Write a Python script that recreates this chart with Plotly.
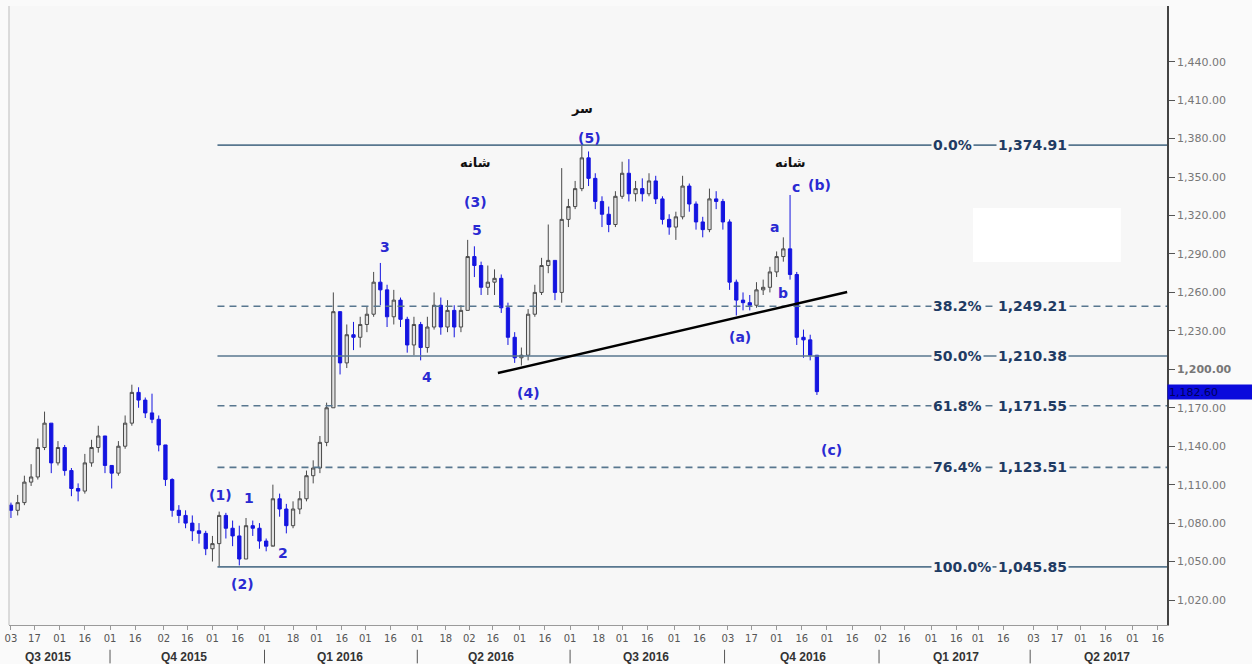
import pandas as pd
import plotly.graph_objects as go

# ---------------- data ----------------
first_open = 1094
dates = pd.date_range("2015-08-03", periods=121, freq="4D")

close = [1090, 1096, 1112, 1116, 1139, 1158, 1127, 1139, 1121, 1107,
         1105, 1127, 1139, 1148, 1125, 1119, 1140, 1158, 1182, 1176,
         1166, 1161, 1141, 1114, 1090, 1086, 1080, 1074, 1072, 1060,
         1064, 1086, 1076, 1070, 1052, 1078, 1076, 1066, 1062, 1099,
         1091, 1078, 1091, 1099, 1117, 1123, 1143, 1170, 1245, 1205,
         1227, 1225, 1235, 1243, 1268, 1262, 1241, 1254, 1239, 1219,
         1235, 1217, 1233, 1250, 1233, 1246, 1233, 1246, 1288, 1281,
         1264, 1268, 1271, 1248, 1225, 1209, 1211, 1243, 1260, 1281,
         1285, 1260, 1317, 1327, 1341, 1365, 1349, 1331, 1321, 1313,
         1335, 1353, 1337, 1341, 1337, 1347, 1333, 1317, 1311, 1319,
         1343, 1329, 1315, 1309, 1333, 1331, 1315, 1268, 1254, 1252,
         1250, 1262, 1264, 1276, 1288, 1294, 1274, 1225, 1223, 1211,
         1182.6]
high = [1096, 1102, 1117, 1126, 1146, 1167, 1158, 1144, 1141, 1123,
        1111, 1134, 1145, 1156, 1148, 1123, 1144, 1164, 1188, 1186,
        1178, 1181, 1164, 1140, 1115, 1094, 1090, 1086, 1080, 1074,
        1070, 1089, 1088, 1082, 1078, 1084, 1082, 1080, 1068, 1110,
        1103, 1095, 1097, 1105, 1121, 1129, 1148, 1174, 1260, 1243,
        1235, 1237, 1241, 1249, 1276, 1283, 1266, 1262, 1256, 1241,
        1241, 1237, 1241, 1260, 1256, 1254, 1250, 1250, 1301, 1296,
        1284, 1281, 1278, 1274, 1252, 1229, 1217, 1247, 1266, 1287,
        1313, 1285, 1357, 1333, 1347, 1375, 1370, 1353, 1335, 1327,
        1339, 1362, 1364, 1347, 1349, 1353, 1351, 1335, 1321, 1323,
        1351, 1345, 1331, 1319, 1341, 1339, 1333, 1317, 1270, 1260,
        1258, 1268, 1270, 1280, 1292, 1303, 1336, 1276, 1231, 1227,
        1211]
low = [1084, 1086, 1094, 1109, 1114, 1137, 1119, 1125, 1117, 1101,
       1097, 1103, 1124, 1135, 1119, 1107, 1117, 1138, 1156, 1170,
       1162, 1158, 1136, 1109, 1085, 1080, 1076, 1066, 1064, 1055,
       1050, 1046, 1068, 1062, 1047, 1052, 1070, 1060, 1058, 1063,
       1085, 1072, 1076, 1087, 1097, 1111, 1119, 1140, 1170, 1196,
       1201, 1215, 1217, 1229, 1241, 1250, 1233, 1235, 1233, 1213,
       1211, 1207, 1213, 1231, 1227, 1229, 1225, 1229, 1246, 1272,
       1258, 1258, 1258, 1244, 1219, 1205, 1203, 1207, 1241, 1258,
       1275, 1254, 1252, 1311, 1325, 1339, 1343, 1325, 1311, 1307,
       1311, 1333, 1331, 1331, 1331, 1335, 1329, 1313, 1305, 1301,
       1317, 1323, 1309, 1303, 1307, 1325, 1309, 1262, 1242, 1246,
       1246, 1248, 1258, 1260, 1272, 1284, 1270, 1219, 1209, 1207,
       1180]
opens = [first_open] + close[:-1]
last_price = 1182.60

fib_pct = ["0.0%", "38.2%", "50.0%", "61.8%", "76.4%", "100.0%"]
fib_val = [1374.91, 1249.21, 1210.38, 1171.55, 1123.51, 1045.85]
fib_dashed = [False, True, False, True, True, False]
fib_start = "2015-12-04"

trend_x = ["2016-05-19", "2016-12-13"]
trend_y = [1197.1, 1260.3]

wave_text = ["(1)", "1", "2", "(2)", "3", "4", "5", "(3)", "(5)", "(4)",
             "(a)", "a", "b", "c", "(b)", "(c)"]
wave_x = ["2015-12-06", "2015-12-23", "2016-01-12", "2015-12-19", "2016-03-13",
          "2016-04-07", "2016-05-06 12:00", "2016-05-05 12:00", "2016-07-12 20:00",
          "2016-06-06 12:00", "2016-10-10", "2016-10-31", "2016-11-04 20:00",
          "2016-11-12 12:00", "2016-11-26 20:00", "2016-12-03 10:00"]
wave_y = [1101.9, 1099.6, 1056.7, 1032.5, 1295.4, 1194.0, 1308.7, 1330.6, 1380.5,
          1181.5, 1225.2, 1311.0, 1259.5, 1342.3, 1343.8, 1137.0]

fa_text = ["سر", "شانه", "شانه"]
fa_x = ["2016-07-08", "2016-05-05 12:00", "2016-11-09"]
fa_y = [1403.9, 1361.0, 1361.0]

tick_dates = ["2015-08-03", "2015-08-17", "2015-09-01", "2015-09-16", "2015-10-01",
              "2015-10-16", "2015-11-02", "2015-11-16", "2015-12-01", "2015-12-16",
              "2016-01-01", "2016-01-18", "2016-02-01", "2016-02-16", "2016-03-01",
              "2016-03-16", "2016-04-01", "2016-04-18", "2016-05-02", "2016-05-16",
              "2016-06-01", "2016-06-16", "2016-07-01", "2016-07-18", "2016-08-01",
              "2016-08-16", "2016-09-01", "2016-09-16", "2016-10-03", "2016-10-17",
              "2016-11-01", "2016-11-16", "2016-12-01", "2016-12-16", "2017-01-02",
              "2017-01-16", "2017-02-01", "2017-02-16", "2017-03-01", "2017-03-16",
              "2017-04-03", "2017-04-17", "2017-05-01", "2017-05-16", "2017-06-01",
              "2017-06-16"]
tick_text = [d[-2:] for d in tick_dates]

quarter_text = ["Q3 2015", "Q4 2015", "Q1 2016", "Q2 2016", "Q3 2016", "Q4 2016",
                "Q1 2017", "Q2 2017"]
quarter_x = ["2015-08-25", "2015-11-14", "2016-02-15", "2016-05-15", "2016-08-15",
             "2016-11-17", "2017-02-16", "2017-05-17"]
quarter_sep = ["2015-10-01", "2016-01-01", "2016-04-01", "2016-07-01", "2016-10-01",
               "2017-01-01", "2017-04-01"]

y_ticks = list(range(1020, 1441, 30))

# ---------------- figure ----------------
BG = "#f7f7f7"
fig = go.Figure()
fig.add_trace(go.Candlestick(
    x=dates, open=opens, high=high, low=low, close=close,
    increasing=dict(line=dict(color="#4a4a4a", width=1), fillcolor="#e2e2e2"),
    decreasing=dict(line=dict(color="#1414e0", width=1), fillcolor="#1414e0"),
    whiskerwidth=0, showlegend=False, hoverinfo="skip"))

shapes = []
# erased (white) area
shapes.append(dict(type="rect", xref="x", yref="y", x0="2017-02-26", x1="2017-05-25",
                   y0=1283.7, y1=1325.9, fillcolor="white", line_width=0, layer="below"))
# left frame
shapes.append(dict(type="line", xref="paper", yref="paper", x0=0, x1=0, y0=0, y1=1,
                   line=dict(color="#bdbdbd", width=1)))
for v, dashed in zip(fib_val, fib_dashed):
    shapes.append(dict(type="line", xref="x", yref="y", x0=fib_start, x1="2017-06-21 12:00",
                       y0=v, y1=v, line=dict(color="#58778f", width=1.6,
                                             dash="7px,5px" if dashed else "solid")))
shapes.append(dict(type="line", xref="x", yref="y", x0=trend_x[0], x1=trend_x[1],
                   y0=trend_y[0], y1=trend_y[1], line=dict(color="black", width=2.5)))
for d in quarter_sep:
    shapes.append(dict(type="line", xref="x", yref="paper", x0=d, x1=d, y0=-0.04, y1=-0.062,
                       line=dict(color="#555", width=1)))

ann = []
for p, v in zip(fib_pct, fib_val):
    for txt, xp in ((p, 0.7962), ("{:,.2f}".format(v), 0.8523)):
        ann.append(dict(xref="paper", yref="y", x=xp, y=v, text=txt, showarrow=False,
                        xanchor="left", yanchor="middle", bgcolor=BG, borderpad=1,
                        font=dict(family="DejaVu Sans", size=14, color="#1f3b63", weight="bold")))
for t, x, y in zip(wave_text, wave_x, wave_y):
    ann.append(dict(x=x, y=y, text=t, showarrow=False, xanchor="center", yanchor="middle",
                    font=dict(family="DejaVu Sans", size=14, color="#2a2ad2", weight="bold")))
for t, x, y in zip(fa_text, fa_x, fa_y):
    ann.append(dict(x=x, y=y, text="<b>" + t + "</b>", showarrow=False,
                    font=dict(family="DejaVu Sans", size=13, color="#111")))
for t, x in zip(quarter_text, quarter_x):
    ann.append(dict(x=x, xref="x", yref="paper", y=-0.052, text=t, showarrow=False,
                    yanchor="middle",
                    font=dict(family="Liberation Sans", size=12, color="#333", weight="bold")))
ann.append(dict(xref="paper", yref="y", x=1.0, y=last_price, text="{:,.2f}".format(last_price),
                showarrow=False, xanchor="left", yanchor="middle", bgcolor="#0a0adc",
                width=84, height=12, align="left", borderpad=1,
                font=dict(family="DejaVu Sans", size=11, color="#00005a")))

y_text = ["<b>{:,.2f}</b>".format(v) if v == 1200 else "{:,.2f}".format(v) for v in y_ticks]

fig.update_layout(
    width=1252, height=664, autosize=False,
    margin=dict(l=9, r=85, t=6, b=39),
    paper_bgcolor="#fafafa", plot_bgcolor=BG,
    shapes=shapes, annotations=ann, showlegend=False,
    xaxis=dict(type="date", range=["2015-08-01 20:00", "2017-06-21 12:00"],
               tickvals=tick_dates, ticktext=tick_text, ticks="outside", ticklen=4,
               tickcolor="#999", showgrid=False, showline=True, linecolor="#9a9a9a",
               tickfont=dict(family="DejaVu Sans", size=10, color="#555"),
               rangeslider=dict(visible=False), zeroline=False, automargin=False),
    yaxis=dict(side="right", range=[1000.5, 1483.5], tickvals=y_ticks, ticktext=y_text,
               ticks="outside", ticklen=6, tickcolor="#555", showgrid=False,
               showline=True, linecolor="#444", linewidth=1.5, zeroline=False,
               automargin=False,
               tickfont=dict(family="DejaVu Sans", size=11, color="#777")),
)

fig.write_html("out.html", config={"displayModeBar": False},
               post_script="document.body.style.margin='0';document.body.style.overflow='hidden';")
